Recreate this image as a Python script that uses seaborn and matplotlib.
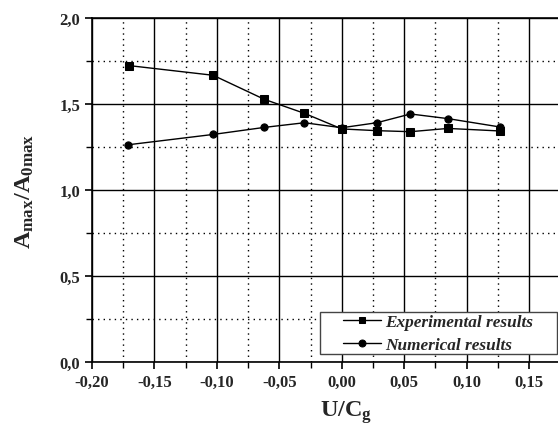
import matplotlib
matplotlib.use("Agg")
import matplotlib.pyplot as plt
import seaborn as sns
import pandas as pd
from matplotlib.ticker import MultipleLocator, FuncFormatter
from matplotlib.patches import Rectangle

x_exp = [-0.170, -0.103, -0.062, -0.030, 0.000, 0.028, 0.055, 0.085, 0.127]
y_exp = [1.723, 1.667, 1.527, 1.446, 1.355, 1.345, 1.339, 1.358, 1.343]
x_num = [-0.171, -0.103, -0.062, -0.030, 0.000, 0.028, 0.055, 0.085, 0.127]
y_num = [1.263, 1.323, 1.364, 1.391, 1.362, 1.391, 1.442, 1.415, 1.366]
series_names = ["Experimental results", "Numerical results"]

sns.set_style("white")
plt.rcParams['font.family'] = ['Liberation Serif', 'DejaVu Serif']
plt.rcParams['mathtext.fontset'] = 'custom'
plt.rcParams['mathtext.rm'] = 'Liberation Serif:bold'
plt.rcParams['mathtext.bf'] = 'Liberation Serif:bold'
plt.rcParams['mathtext.it'] = 'Liberation Serif:bold:italic'

df = pd.concat([
    pd.DataFrame({"x": x_exp, "y": y_exp, "s": series_names[0]}),
    pd.DataFrame({"x": x_num, "y": y_num, "s": series_names[1]}),
])

fig = plt.figure(figsize=(5.58, 4.27), dpi=100)
W, H = 558, 427
L, R, T, B = 92, 561, 19, 363
ax = fig.add_axes([L / W, 1 - B / H, (R - L) / W, (B - T) / H])

sns.lineplot(data=df, x="x", y="y", hue="s", style="s",
             markers={series_names[0]: "s", series_names[1]: "o"},
             dashes=False, palette={series_names[0]: "black", series_names[1]: "black"},
             markersize=5.2, linewidth=1.0, markeredgecolor="black",
             ax=ax, legend=True, sort=False)

ax.set_xlim(-0.2, 0.1755)
ax.set_ylim(0.0, 2.0)
ax.xaxis.set_major_locator(MultipleLocator(0.05))
ax.xaxis.set_minor_locator(MultipleLocator(0.025))
ax.yaxis.set_major_locator(MultipleLocator(0.5))
ax.yaxis.set_minor_locator(MultipleLocator(0.25))
ax.xaxis.set_major_formatter(FuncFormatter(lambda v, p: f"{v:.2f}".replace(".", ",").replace("-0,00", "0,00")))
ax.yaxis.set_major_formatter(FuncFormatter(lambda v, p: f"{v:.1f}".replace(".", ",")))

ax.grid(which="major", color="black", linestyle="-", linewidth=1.0)
ax.grid(which="minor", color="black", linestyle=(0, (1, 3)), linewidth=1.0)
ax.set_axisbelow(True)

for side in ["left", "bottom", "top"]:
    ax.spines[side].set_color("black")
    ax.spines[side].set_linewidth(1.2)
ax.spines["right"].set_visible(False)

ax.tick_params(axis="both", which="major", direction="out", length=5, width=1.2,
               color="black", labelsize=12, bottom=True, left=True)
ax.tick_params(axis="both", which="minor", direction="out", length=4, width=1.0,
               color="black", bottom=True, left=True)
for lbl in ax.get_xticklabels() + ax.get_yticklabels():
    lbl.set_fontweight("bold")

ax.set_xlabel(r"U/C$_\mathbf{g}$", fontsize=17.5, fontweight="bold", labelpad=6,
              x=(346 - L) / (R - L))
ax.set_ylabel(r"A$_\mathbf{max}$/A$_\mathbf{0max}$", fontsize=17.5, fontweight="bold", labelpad=17)

# legend frame box
bx0, bx1, by0, by1 = 320, 557, 313, 355
ax.add_patch(Rectangle(((bx0 - L) / (R - L), (B - by1) / (B - T)),
                       (bx1 - bx0) / (R - L), (by1 - by0) / (B - T),
                       transform=ax.transAxes, facecolor="white", edgecolor="#444444",
                       linewidth=1.0, zorder=4, clip_on=False))

handles, labels = ax.get_legend_handles_labels()
leg = ax.legend(handles, labels, loc="center left",
                bbox_to_anchor=((343 - L) / (R - L), (B - (by0 + by1) / 2 - 0.5) / (B - T)),
                frameon=False, handlelength=2.2, handletextpad=0.25, borderpad=0.0,
                labelspacing=0.35, borderaxespad=0.0,
                prop={"family": "Liberation Serif", "weight": "bold", "style": "italic", "size": 12.4})
leg.set_zorder(5)
for h in leg.legend_handles:
    h.set_markersize(5)

fig.savefig("out.png", dpi=100)
